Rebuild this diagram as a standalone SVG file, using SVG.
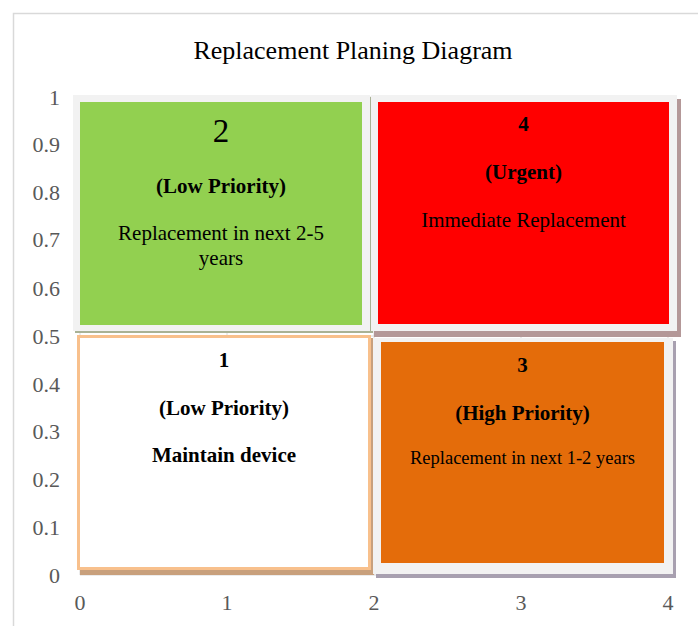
<svg xmlns="http://www.w3.org/2000/svg" width="698" height="626" viewBox="0 0 698 626">
<style>
.ax{font-family:"Liberation Serif","Times New Roman",serif;font-size:22px;fill:#595959}
.t{font-family:"Liberation Serif","Times New Roman",serif;font-size:21px;fill:#000;text-anchor:middle}
.b{font-weight:bold}
.frame{fill:#f2f2f2}
.grid{stroke:#d9d9d9;stroke-width:1}
</style>
<rect x="0" y="0" width="698" height="626" fill="#fff"/>
<path d="M13.5 626V13.5H698" fill="none" stroke="#d9d9d9" stroke-width="1.5"/>
<text x="353" y="59" style="font-family:'Liberation Serif','Times New Roman',serif;font-size:26px;fill:#000;text-anchor:middle">Replacement Planing Diagram</text>
<g id="grid">
<path class="grid" d="M80 97V575M227 97V575M374 97V575M521 97V575M668 97V575M80 575H668M80 527H668M80 479H668M80 432H668M80 384H668M80 336H668M80 288H668M80 240H668M80 193H668M80 145H668M80 97H668"/>
</g>
<g id="y-axis" class="ax" text-anchor="end">
<text x="60" y="104.5">1</text>
<text x="60" y="152">0.9</text>
<text x="60" y="199.5">0.8</text>
<text x="60" y="247">0.7</text>
<text x="60" y="295.5">0.6</text>
<text x="60" y="343.5">0.5</text>
<text x="60" y="391.5">0.4</text>
<text x="60" y="439">0.3</text>
<text x="60" y="487">0.2</text>
<text x="60" y="534.5">0.1</text>
<text x="60" y="582.5">0</text>
</g>
<g id="x-axis" class="ax" text-anchor="middle">
<text x="80" y="610">0</text>
<text x="227" y="610">1</text>
<text x="374" y="610">2</text>
<text x="521" y="610">3</text>
<text x="668" y="610">4</text>
</g>
<g id="node-2">
<rect x="75" y="97" width="298" height="236" fill="#a9b295"/>
<rect class="frame" x="73" y="95" width="297" height="236"/>
<rect x="80" y="102" width="282" height="223" fill="#92d050"/>
<text class="t" x="221" y="142" style="font-size:33px">2</text>
<text class="t b" x="221" y="193">(Low Priority)</text>
<text class="t" x="221" y="240">Replacement in next 2-5</text>
<text class="t" x="221" y="265">years</text>
</g>
<g id="node-4">
<rect x="374" y="99" width="307" height="238" fill="#b49898"/>
<rect class="frame" x="371" y="95" width="306" height="236"/>
<rect x="378" y="102" width="291" height="222" fill="#ff0000"/>
<text class="t b" x="523.5" y="131">4</text>
<text class="t b" x="523.5" y="179">(Urgent)</text>
<text class="t" x="523.5" y="227">Immediate Replacement</text>
</g>
<g id="node-1">
<rect x="80" y="338" width="294" height="237" fill="#c8a07c"/>
<rect x="78.5" y="336.5" width="291" height="232" fill="#fff" stroke="#f8c08c" stroke-width="3"/>
<text class="t b" x="224" y="367">1</text>
<text class="t b" x="224" y="415">(Low Priority)</text>
<text class="t b" x="224" y="462">Maintain device</text>
</g>
<g id="node-3">
<rect x="376" y="341" width="300" height="237" fill="#a8a0b0"/>
<rect class="frame" x="373" y="338" width="300" height="236"/>
<rect x="381" y="342" width="283" height="221" fill="#e46c0a"/>
<text class="t b" x="522.5" y="372">3</text>
<text class="t b" x="522.5" y="420">(High Priority)</text>
<text class="t" x="522.5" y="464" style="font-size:18.5px">Replacement in next 1-2 years</text>
</g>
<g id="connectors"/>
</svg>
